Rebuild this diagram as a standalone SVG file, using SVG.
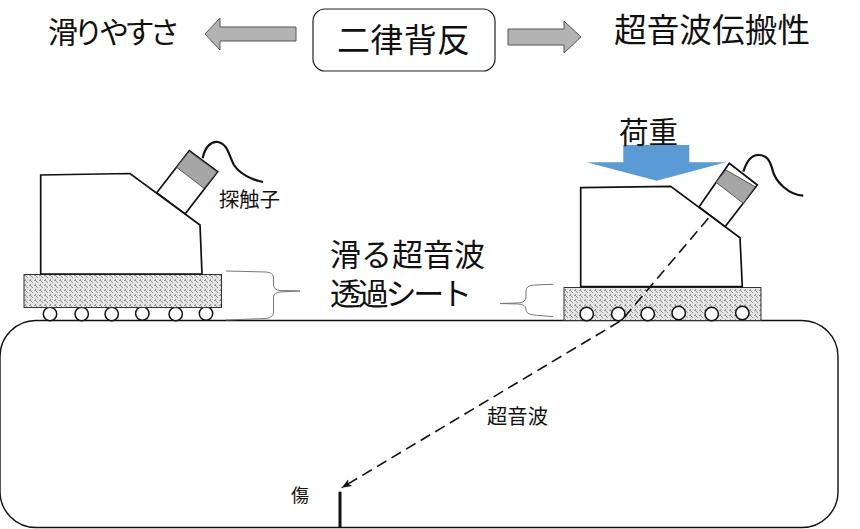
<svg xmlns="http://www.w3.org/2000/svg" width="860" height="529" viewBox="0 0 860 529">
<style>
text{font-family:"Noto Sans CJK JP","Noto Sans",sans-serif;fill:#111;font-weight:400}
.w{fill:#fff;stroke:#111;stroke-width:1.7;stroke-linejoin:miter}
.g{fill:#a6a6a6;stroke:#555;stroke-width:1}
.ar{fill:#b3b3b3;stroke:#555;stroke-width:1}
.b{fill:none;stroke:#777;stroke-width:1}
.sheet{fill:url(#h);stroke:#333;stroke-width:1}
.c{fill:#fff;stroke:#111;stroke-width:1.5}
.cab{fill:none;stroke:#111;stroke-width:2.2}
</style>
<defs>
<pattern id="h" width="5" height="5" patternUnits="userSpaceOnUse">
<rect width="5" height="5" fill="#e4e4e4"/>
<path d="M0 0L3 3M4 0L5 1M0 4L1 5" stroke="#8c8c8c" stroke-width=".9"/>
<rect x="3" y="0.5" width="1" height="1" fill="#fff"/>
</pattern>
<marker id="a" markerWidth="12" markerHeight="10" refX="10" refY="5" orient="auto" markerUnits="userSpaceOnUse">
<path d="M0 1L10 5L0 9L2.5 5Z" fill="#111"/>
</marker>
</defs>
<g id="top-box"><rect x="313" y="9" width="182" height="62" rx="12" fill="#fff" stroke="#222" stroke-width="1.2"/><text x="337" y="52" font-size="33" textLength="133">二律背反</text></g>
<g id="top-left"><text x="48" y="43" font-size="30" textLength="132">滑りやすさ</text></g>
<g id="top-right"><text x="614" y="42" font-size="32.6" textLength="196">超音波伝搬性</text></g>
<g id="arrow-left"><path class="ar" d="M296 27H220V18L205 34L220 50V41H296Z"/></g>
<g id="arrow-right"><path class="ar" d="M508 29H564V21L581 37L564 53V45H508Z"/></g>
<g id="ground"><rect x="0" y="320.5" width="838" height="207" rx="36" fill="#fff" stroke="#111" stroke-width="1.4"/></g>
<g id="left-unit">
<circle class="c" cx="50" cy="314" r="6.7"/><circle class="c" cx="81.7" cy="314" r="6.7"/><circle class="c" cx="111.7" cy="314" r="6.7"/><circle class="c" cx="142.3" cy="313.5" r="6.7"/><circle class="c" cx="175.7" cy="314" r="6.7"/><circle class="c" cx="206" cy="313.5" r="6.7"/>
<rect class="sheet" x="24" y="274.5" width="197.5" height="33"/>
<path class="w" d="M156.7 192.7L189.3 150.7L217.7 171.7L185 214Z"/>
<path class="g" d="M189.3 151.5L217 172L204 188.3L176.7 167.3Z"/>
<path class="cab" d="M202.7 158.3C205 146 212 141 218 142C228 144 229 156 234 165C240 174 252 180 263 182"/>
<path class="w" d="M40.7 274V175L130 173.5L200 225L202 274Z"/>
</g>
<g id="right-unit">
<rect class="sheet" x="564" y="287.5" width="197" height="33"/>
<circle class="c" cx="586.7" cy="314" r="6.7"/><circle class="c" cx="618.3" cy="314" r="6.7"/><circle class="c" cx="647.7" cy="314" r="6.7"/><circle class="c" cx="678.7" cy="313" r="6.7"/><circle class="c" cx="711.7" cy="314" r="6.7"/><circle class="c" cx="742.3" cy="313" r="6.7"/>
<path class="w" d="M699 207L729.3 163.3L757.3 185L725 226.7Z"/>
<path class="g" d="M726 170L755 186.7L743.3 203.3L716 182.3Z"/>
<path class="cab" d="M743.3 171.7C747 160 752 155 758.3 155C768 155 770 162 772 168C775 183 790 195 803.3 195.7"/>
<path class="w" d="M580.7 286.7V187.7L670.7 186.3L740 237.7L742.3 286.7Z"/>
<path d="M623.3 145H689.3V162.3H726L656.7 180.7L586.7 162.3H623.3Z" fill="#5b9bd5"/>
</g>
<g id="connectors">
<path d="M708.3 218.3L622 320L341.7 487.7" fill="none" stroke="#111" stroke-width="1.6" stroke-dasharray="11 6" stroke-linejoin="round" marker-end="url(#a)"/>
<path class="b" d="M226 271L266 272Q273 272.5 273.5 277V285Q274 290 280 290.5L300 291L280 292Q274 292.5 273.5 297V312Q273.5 317.5 266 318.5L226 320"/>
<path class="b" d="M553.3 284.3L534 285Q526 285.5 526 291V297Q526 302.5 518 303L500 303.5L518 304Q526 304.5 526 309V310Q526 314 534 315L553.3 316.7"/>
</g>
<g id="flaw"><path d="M340 491.7V527" stroke="#111" stroke-width="3"/></g>
<g id="labels">
<text x="219" y="207" font-size="20.3" textLength="61">探触子</text>
<text x="330" y="266" font-size="31" textLength="155">滑る超音波</text>
<text x="330" y="305" font-size="31" textLength="142">透過シート</text>
<text x="619" y="143" font-size="29.5" textLength="59">荷重</text>
<text x="487" y="424" font-size="20.3" textLength="61">超音波</text>
<text x="291" y="502" font-size="18">傷</text>
</g>
</svg>
